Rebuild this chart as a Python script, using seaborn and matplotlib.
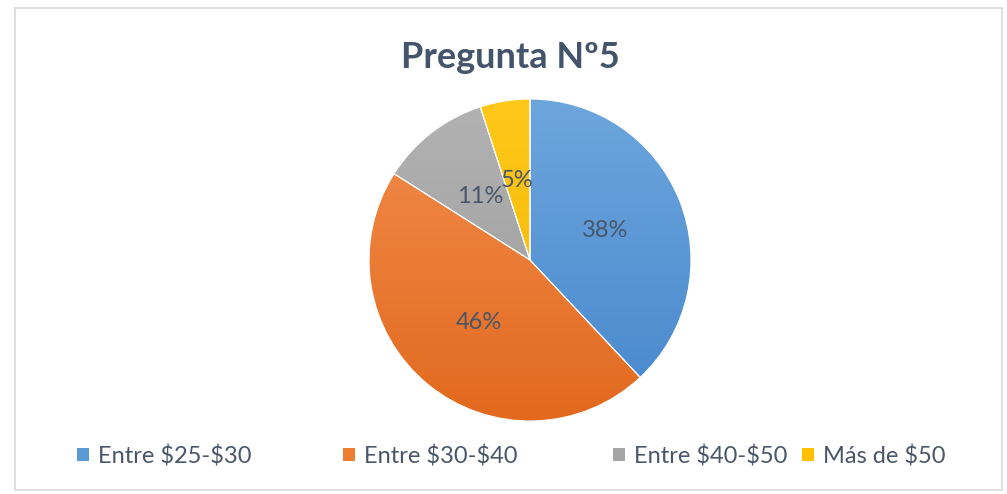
import numpy as np
import matplotlib
matplotlib.use("Agg")
import matplotlib.pyplot as plt
import matplotlib.patches as mpatches
import seaborn as sns

# Data
categories = ["Entre $25-$30", "Entre $30-$40", "Entre $40-$50", "Más de $50"]
values = [38, 46, 11, 5]
title = "Pregunta Nº5"

sns.set_theme(style="white")
plt.rcParams['font.family'] = ['Lato', 'DejaVu Sans']

colors = ["#5B9BD5", "#ED7D31", "#A5A5A5", "#FFC000"]
light = ["#6DA6DD", "#F28E4E", "#B2B2B2", "#FFC81A"]
dark = ["#4787CD", "#E2691E", "#9A9A9A", "#F2B400"]
text_col = "#4A5669"

W, H = 1007, 494
fig = plt.figure(figsize=(W / 100, H / 100), dpi=100)
fig.patch.set_facecolor("white")

# border
fig.add_artist(mpatches.Rectangle((15 / W, 1 - 490 / H), (1002 - 15) / W, (490 - 8) / H,
                                  transform=fig.transFigure, fill=False,
                                  edgecolor="#D9D9D9", linewidth=1.2))

cx, cy, r = 530, 260, 161
ax = fig.add_axes([(cx - r) / W, 1 - (cy + r) / H, 2 * r / W, 2 * r / H])
wedges, texts, autotexts = ax.pie(values, colors=colors, startangle=90, counterclock=False,
                                  autopct="%1.0f%%", pctdistance=0.5,
                                  wedgeprops=dict(edgecolor="white", linewidth=0.8),
                                  textprops=dict(color=text_col, fontsize=17))
ax.set_xlim(-1, 1)
ax.set_ylim(-1, 1)
ax.set_aspect("equal")
ax.axis("off")

# subtle vertical gradient inside each wedge
yy = np.linspace(1, 0, 256)[:, None]
for w, lc, dc in zip(wedges, light, dark):
    c1 = np.array(matplotlib.colors.to_rgb(lc))
    c2 = np.array(matplotlib.colors.to_rgb(dc))
    img = c2 + (c1 - c2) * yy[..., None]
    img = np.repeat(img, 2, axis=1)
    im = ax.imshow(img, extent=(-1, 1, -1, 1), zorder=w.get_zorder() + 0.1, aspect="auto")
    im.set_clip_path(w)
    ax.set_xlim(-1, 1)
    ax.set_ylim(-1, 1)
for w in wedges:
    w.set_facecolor("none")
    w.set_zorder(3)
for t in autotexts:
    t.set_zorder(5)

fig.text(510 / W, 1 - 58 / H, title, ha="center", va="center", fontsize=26,
         fontweight="bold", color="#44546A")

# legend entries
leg_x = [77, 343, 613, 802]
for cat, col, x in zip(categories, colors, leg_x):
    h = mpatches.Patch(facecolor=col, edgecolor="none")
    lg = fig.legend(handles=[h], labels=[cat], loc="center left",
                    bbox_to_anchor=(x / W, 1 - 456 / H), frameon=False,
                    fontsize=17, handlelength=0.5, handleheight=0.5, handletextpad=0.4,
                    borderpad=0, borderaxespad=0)
    for t in lg.get_texts():
        t.set_parse_math(False)
        t.set_color(text_col)

fig.savefig("out.png", dpi=100)
